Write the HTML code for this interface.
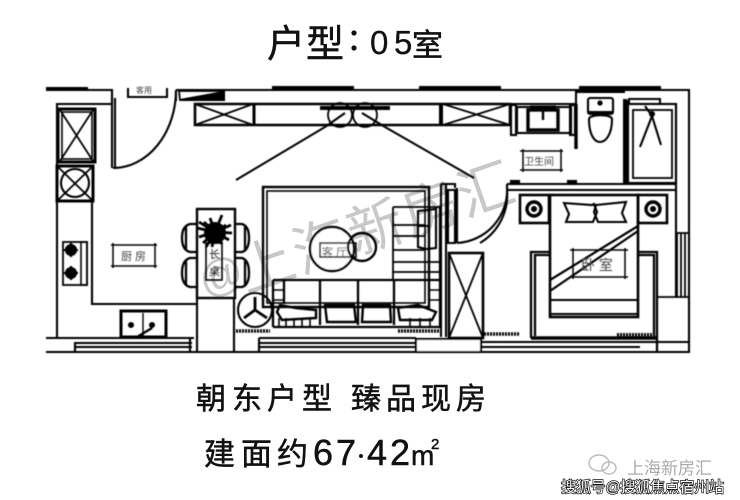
<!DOCTYPE html>
<html><head><meta charset="utf-8"><style>
html,body{margin:0;padding:0;background:#fff;width:740px;height:500px;overflow:hidden}
svg{display:block}
text{font-family:"Liberation Sans","Noto Sans CJK SC",sans-serif}
</style></head><body>
<svg width="740" height="500" viewBox="0 0 740 500" xmlns="http://www.w3.org/2000/svg">
<defs><filter id="b"><feGaussianBlur stdDeviation="0.4"/></filter></defs>
<rect width="740" height="500" fill="#fff"/>

<!-- watermark -->
<g fill="#c8c8c8">
<text transform="translate(205 297) rotate(-20)" font-size="44">@</text>
<text transform="translate(246 293) rotate(-19)" font-size="56" letter-spacing="2">上海新房汇</text>
</g>

<g fill="#111" stroke="#111" stroke-width="0.5">
<text font-size="38" y="57" x="267 306">户型</text>
<circle cx="354" cy="33" r="2.4"/><circle cx="354" cy="48" r="2.4"/>
<text font-size="33" y="54" x="370 394" font-family="Liberation Sans" stroke-width="0.3">05</text>
<text font-size="31" y="56" x="412">室</text>
<text font-size="30" y="409" x="196 232 267 302 351 386 421 456">朝东户型臻品现房</text>
<text font-size="31" y="465" x="204 241 277">建面约</text>
<text font-size="36" y="465" x="313 336 367 390">6742</text>
<circle cx="361" cy="456" r="1.8"/>
<text font-size="28" y="465" x="411">m</text>
<text font-size="15" y="449" x="431">2</text>
</g>

<g filter="url(#b)" fill="none" stroke="#000" stroke-width="2.1">
<!-- outer walls -->
<path d="M46 90H112V104H57V338M46 338H194M46 352H196"/>
<rect x="46" y="87" width="42" height="4" fill="#000" stroke="none"/>
<path d="M176 90H689V352H46M176 90V101"/>
<rect x="272" y="86" width="82" height="4" fill="#000" stroke="none"/>
<rect x="419" y="86" width="82" height="4" fill="#000" stroke="none"/>
<rect x="579" y="86" width="82" height="4" fill="#000" stroke="none"/>
<path d="M128 88V97H167V88"/><text x="136" y="93" font-size="8" fill="#444" stroke="none">客用</text>
<path d="M112 98V168M115 98V168M113 168A63 78 0 0 0 176 90"/>
<path d="M179 91H224V100H180Z" stroke-width="1.8"/><path d="M180 100L224 92V100Z" fill="#000"/>

<!-- top cabinet -->
<path d="M195 104H510V125H195Z" stroke-width="2.6"/>
<path d="M195 104L253 125M253 104L195 125M443 104L510 125M510 104L443 125" stroke-width="1.8"/>
<path d="M254 104V125" stroke-width="3"/><path d="M441 104V125" stroke-width="4"/>
<rect x="320" y="106" width="70" height="4" fill="#000" stroke="none"/>
<circle cx="340" cy="115" r="12" stroke-width="1.8"/><circle cx="365" cy="115" r="12" stroke-width="1.8"/>
<path d="M325 127L345 113M385 127L362 113"/>
<path d="M325 127L236 180M385 127L474 178"/>

<!-- kitchen left -->
<rect x="58" y="109" width="37" height="53" stroke-width="3"/>
<rect x="62" y="112" width="30" height="47" stroke-width="1.6"/>
<path d="M60 110L93 161M93 110L60 161" stroke-width="1.8"/>
<rect x="57" y="166" width="36" height="35" stroke-width="3"/>
<circle cx="75" cy="183" r="14"/><path d="M58 167L92 200M92 167L58 200" stroke-width="1.8"/>
<path d="M92 201V304H196"/>
<rect x="63" y="242" width="24" height="43" stroke-width="1.8"/><rect x="81" y="242" width="6" height="43" stroke-width="1.6"/>
<circle cx="71" cy="250" r="5" fill="#000"/><circle cx="71" cy="273" r="5" fill="#000"/>
<path d="M71 243V257M64 250H78M71 266V280M64 273H78"/>
<rect x="121" y="311" width="45" height="26" stroke-width="3"/><path d="M143 313V336" stroke-width="1.4"/>
<circle cx="131" cy="325" r="2" fill="#000"/><circle cx="152" cy="325" r="2" fill="#000"/>
<path d="M137 337L152 328" stroke-width="2.4"/>
<path d="M113 243V268M155 243V268M111 245H157M111 266H157" stroke-width="1.5"/>
<text x="121" y="260" font-size="11" fill="#444" stroke="none">厨 房</text>

<!-- window bottom -->
<path d="M75 342V352M75 343H192M75 347H192M190 338V352"/>
<path d="M259 338H416M259 343H416M259 347H416M259 338V352M481 342H690M481 347H640"/>
<rect x="416" y="339" width="65" height="13" fill="#fff"/>

<!-- table -->
<rect x="197" y="209" width="38" height="89" stroke-width="2.4"/>
<path d="M197 298V352M234 298V352"/>
<rect x="206" y="243" width="16" height="37" stroke-width="1.6"/>
<text x="209" y="258" font-size="11" fill="#222" stroke="none">长</text><text x="209" y="275" font-size="11" fill="#222" stroke="none">桌</text>
<g stroke-width="2.3">
<path d="M197 224H190Q182 226 182 238Q182 250 190 252H197M186 226V250"/>
<path d="M197 258H190Q182 260 182 273Q182 285 190 287H197M186 260V285"/>
<path d="M235 224H242Q249 226 249 238Q249 250 242 252H235M245 226V250"/>
<path d="M235 258H242Q249 260 249 273Q249 285 242 287H235M245 260V285"/>
</g>
<g stroke-width="2.8"><path d="M215 232L204 222M215 232L226 225M215 232L222 215M215 232L197 228M215 232L232 233M215 232L203 243M215 232L222 244M215 232L212 247M215 232L199 237M215 232L229 240M215 232L210 218M215 232L199 222M215 232L231 225M215 232L206 247"/></g>
<circle cx="215" cy="233" r="11" fill="#000" stroke="none"/>

<!-- fan -->
<circle cx="255" cy="310" r="17"/>
<path d="M255 310V297M255 310L244 318M255 310L267 318" stroke-width="2.8"/>
<path d="M236 331H270" stroke-width="3.5" stroke-dasharray="2 1"/>
<path d="M398 331H440" stroke-width="3.5" stroke-dasharray="2 1"/>

<!-- rug -->
<rect x="263" y="187" width="166" height="120" stroke-width="2.4"/>
<rect x="267" y="191" width="158" height="112" stroke-width="1.6"/>
<!-- stairs -->
<path d="M393 207H441M393 207V280M393 225H425M393 236H425M393 250H425M393 262H441M393 272H441" stroke-width="1.8"/>
<path d="M418 211L436 209V248L426 249L418 247ZM418 226H428"/>
<!-- sofa -->
<path d="M273 280H440M273 327H440M273 280V327M284 280V304M320 280V325M358 280V325M394 280V325M440 207V327" stroke-width="2.3"/>
<path d="M273 290H284M273 300H284M429 290H441M429 300H441M279 318V327M286 318V327M294 318V327M302 318V327M310 318V327M410 318V327M420 318V327M430 318V327" stroke-width="1.6"/>
<path d="M280 305L296 308L316 310V318L282 320L277 312ZM398 308L418 305L436 312L432 320L400 320ZM325 305H354L356 322H327ZM363 305H390L391 322H362Z" stroke-width="2.4"/>

<circle cx="332" cy="249" r="22" fill="#fff" stroke-width="2.4"/>
<circle cx="362" cy="247" r="14" stroke-width="2.4"/>
<rect x="320" y="243" width="36" height="14" stroke-width="1.5"/>
<text x="322" y="256" font-size="11" fill="#444" stroke="none">客 厅</text>

<!-- column and door right of stairs -->
<path d="M441 184H455V188M441 184V337M446 184V337"/>
<path d="M448 190H455V243H448ZM457 188V243"/>
<path d="M457 243A53 53 0 0 0 507 186"/>
<rect x="449" y="253" width="34" height="85" stroke-width="2.6"/><path d="M449 253L483 338M483 253L449 338" stroke-width="1.8"/>
<path d="M484 334H520" stroke-width="3.5" stroke-dasharray="2 1"/>
<path d="M617 335H656" stroke-width="4" stroke-dasharray="2 1"/>

<!-- bath -->
<path d="M576 104V92H625M510 104H576M623 100H627"/>
<rect x="511" y="105" width="5" height="30"/><rect x="570" y="105" width="5" height="30"/>
<rect x="517" y="107" width="54" height="26"/>
<rect x="528" y="110" width="30" height="20" stroke-width="3.4"/>
<path d="M543 110V120" stroke-width="2.4"/><path d="M530 107H556" stroke-width="3"/>
<path d="M576 104V149" stroke-width="3.4"/>
<rect x="588" y="98" width="25" height="16" rx="2"/><circle cx="600" cy="103" r="1.6" fill="#000"/>
<path d="M589 112H612"/><path d="M589 119C589 134 594 142 600 142C606 142 612 134 612 119C612 114 589 114 589 119Z"/>
<rect x="623" y="100" width="5" height="83" fill="#000" stroke="none"/>
<rect x="628" y="104" width="48" height="79"/>
<rect x="633" y="110" width="39" height="68" stroke-width="1.8"/>
<path d="M629 99H660V104H629Z"/><path d="M645 106L652 116L640 147M652 116L661 145"/><circle cx="652" cy="114" r="2" fill="#000"/>
<path d="M523 149V172M561 149V172M520 151H563M520 170H563" stroke-width="1.5"/>
<text x="524" y="165" font-size="10" fill="#444" stroke="none">卫生间</text>

<!-- bedroom -->
<path d="M507 184H676M507 190H676M507 184V190M676 104V297"/>
<rect x="511" y="181" width="8" height="3" fill="#000"/><rect x="568" y="181" width="8" height="3" fill="#000"/>
<path d="M507 190A56 56 0 0 1 480 243"/>
<rect x="520" y="195" width="29" height="28" stroke-width="2.6"/>
<rect x="638" y="195" width="29" height="28" stroke-width="2.6"/>
<circle cx="534" cy="209" r="7" stroke-width="3.4"/><circle cx="653" cy="209" r="7" stroke-width="3.4"/>
<circle cx="534" cy="209" r="2" fill="#000"/><circle cx="653" cy="209" r="2" fill="#000"/>
<rect x="550" y="195" width="88" height="122" stroke-width="2.6"/>
<path d="M550 300H638M550 314H638"/>
<path d="M564 203L592 205L594 204L597 212L593 222L566 222L569 214Z"/>
<path d="M596 205L626 202L622 213L626 222L598 222L594 212Z"/>
<path d="M638 226L550 280M638 231L550 291" stroke-width="2.2"/>
<path d="M573 248V279M625 248V279M570 250H628M570 277H628" stroke-width="1.5"/>
<text x="581" y="270" font-size="14" fill="#444" stroke="none">卧 室</text>
<path d="M550 252H531V338M550 255H535V336M638 252H657V352M638 255H654V336" stroke-width="2.3"/>
<path d="M531 338H657" stroke-width="3.6"/>
<path d="M677 233H689M677 297V233M681 233V297M685 233V297M658 297H689" stroke-width="1.8"/>
</g>

<!-- footer -->
<g fill="none" stroke="#bbb" stroke-width="1.4"><ellipse cx="599" cy="463" rx="10" ry="8"/><ellipse cx="609" cy="468" rx="7" ry="6"/></g>
<text x="627" y="474" font-size="17" fill="#aaa">上海新房汇</text>
<text x="561" y="492" font-size="15" fill="#fff" stroke="#111" stroke-width="1.4" paint-order="stroke" textLength="163">搜狐号@搜狐焦点宿州站</text>
</svg>
</body></html>
